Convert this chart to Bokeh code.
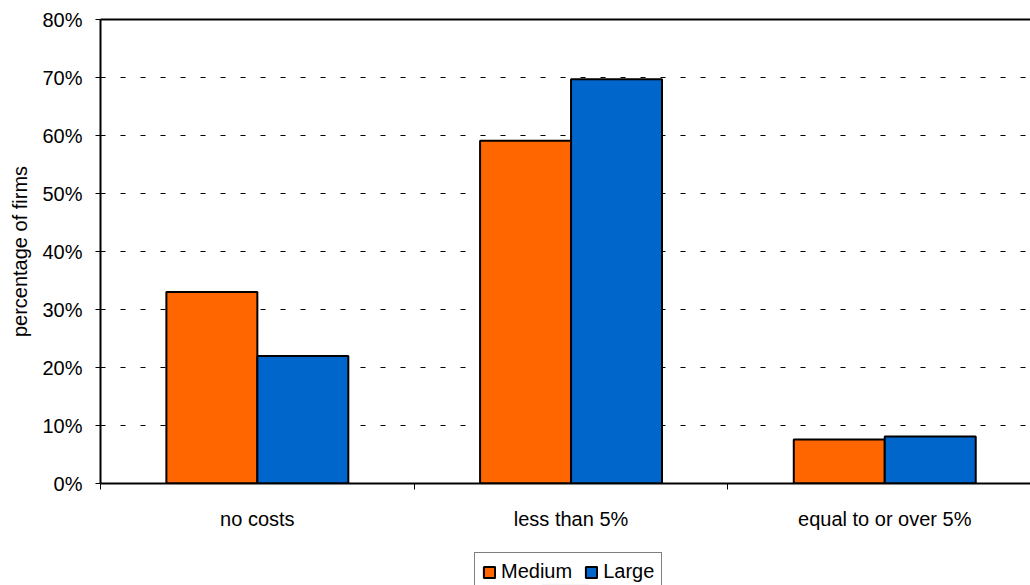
from bokeh.plotting import figure
from bokeh.layouts import column
from bokeh.models import (ColumnDataSource, Range1d, FixedTicker, LinearAxis,
                          Legend, LegendItem)
from bokeh.transform import dodge
from bokeh.embed import file_html
from bokeh.resources import INLINE

# Share of firms by cost category
categories = ["no costs", "less than 5%", "equal to or over 5%"]
series = ["Medium", "Large"]
medium = [33.0, 59.1, 7.6]
large = [22.0, 69.7, 8.1]
y_ticks = [0, 10, 20, 30, 40, 50, 60, 70, 80]
y_tick_labels = ["0%", "10%", "20%", "30%", "40%", "50%", "60%", "70%", "80%"]

FONT = "Liberation Sans"
ORANGE = "#FF6600"
BLUE = "#0066CC"

src = ColumnDataSource(dict(
    x=[i + 0.5 for i in range(len(categories))],
    medium=medium,
    large=large,
))

p = figure(width=1030, height=545, output_backend="svg", toolbar_location=None,
           x_range=Range1d(0, 930 / 313.7), y_range=Range1d(0, 80),
           min_border_left=100, min_border_right=0, min_border_top=19,
           min_border_bottom=62)
p.outline_line_color = None
p.background_fill_color = "white"
p.border_fill_color = "white"

bw = 0.29
p.vbar(x=dodge("x", -bw / 2), top="medium", width=bw, source=src,
       fill_color=ORANGE, line_color="black", line_width=2)
p.vbar(x=dodge("x", bw / 2), top="large", width=bw, source=src,
       fill_color=BLUE, line_color="black", line_width=2)

# x axis: labels at category centres, ticks on category boundaries
xax = p.xaxis[0]
xax.ticker = FixedTicker(ticks=[i + 0.5 for i in range(len(categories))],
                         minor_ticks=list(range(len(categories) + 1)))
xax.major_label_overrides = {i + 0.5: c for i, c in enumerate(categories)}
xax.major_tick_out = 0
xax.major_tick_in = 0
xax.minor_tick_out = 6
xax.minor_tick_in = 0
xax.minor_tick_line_color = "black"
xax.axis_line_color = "black"
xax.axis_line_width = 2
xax.major_label_text_font = FONT
xax.major_label_text_font_size = "20px"
xax.major_label_text_color = "black"
xax.major_label_standoff = 18

# y axis in percent
yax = p.yaxis[0]
yax.ticker = FixedTicker(ticks=y_ticks)
yax.major_label_overrides = {t: l for t, l in zip(y_ticks, y_tick_labels)}
yax.major_tick_out = 5
yax.major_tick_in = 0
yax.minor_tick_out = 0
yax.minor_tick_in = 0
yax.major_tick_line_color = "black"
yax.axis_line_color = "black"
yax.axis_line_width = 2
yax.major_label_text_font = FONT
yax.major_label_text_font_size = "20px"
yax.major_label_text_color = "black"
yax.major_label_standoff = 13
yax.axis_label = "percentage of firms"
yax.axis_label_text_font = FONT
yax.axis_label_text_font_size = "20px"
yax.axis_label_text_font_style = "normal"
yax.axis_label_text_color = "black"
yax.axis_label_standoff = 8

# top frame line
top = LinearAxis(ticker=FixedTicker(ticks=[]), axis_line_color="black",
                 axis_line_width=2, major_tick_out=0, major_tick_in=0,
                 minor_tick_out=0, minor_tick_in=0,
                 major_label_text_color=None)
p.add_layout(top, "above")

p.xgrid.grid_line_color = None
p.ygrid.ticker = FixedTicker(ticks=y_ticks[1:-1])
p.ygrid.grid_line_color = "black"
p.ygrid.grid_line_width = 1
p.ygrid.grid_line_dash = "5 15"

# legend strip under the chart; the key glyphs are flat and hidden by the box
leg = figure(width=1030, height=40, output_backend="svg", toolbar_location=None,
             x_axis_type=None, y_axis_type=None,
             x_range=Range1d(0, 1), y_range=Range1d(0, 1),
             min_border_left=0, min_border_right=0, min_border_top=0,
             min_border_bottom=0)
leg.outline_line_color = None
leg.background_fill_color = "white"
leg.border_fill_color = "white"
key_med = leg.vbar(x=[0.5], top=[0], width=0.05, fill_color=ORANGE,
                   line_color="black", line_width=2)
key_lrg = leg.vbar(x=[0.5], top=[0], width=0.05, fill_color=BLUE,
                   line_color="black", line_width=2)

legend = Legend(items=[LegendItem(label=series[0], renderers=[key_med]),
                       LegendItem(label=series[1], renderers=[key_lrg])],
                orientation="horizontal", location=(374, -6),
                label_text_font=FONT, label_text_font_size="20px",
                label_text_color="black", glyph_width=14, glyph_height=14,
                label_standoff=5, spacing=12, padding=7, margin=0,
                border_line_color="black", border_line_width=1,
                background_fill_color="white")
leg.add_layout(legend, "center")

open("out.html", "w").write(file_html(column(p, leg, spacing=0), INLINE))
